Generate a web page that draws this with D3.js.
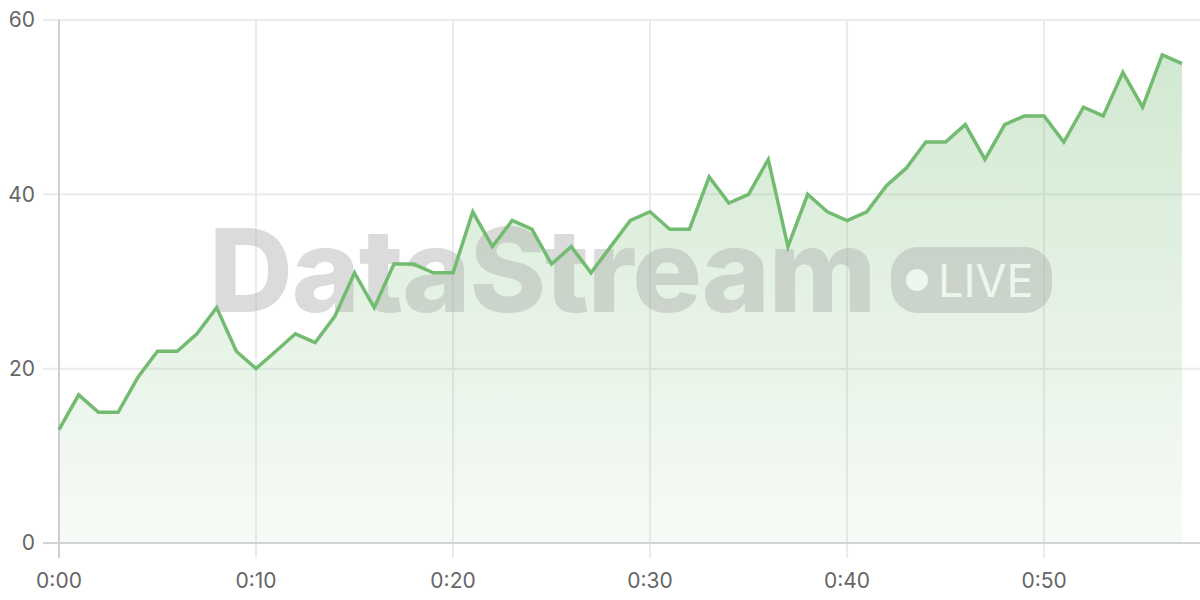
<!DOCTYPE html>
<html><head><meta charset="utf-8">
<script src="https://cdn.jsdelivr.net/npm/d3@7"></script>
<style>body{margin:0;background:#fff;}svg{display:block;font-family:Inter,"Noto Sans",sans-serif;}</style>
</head><body>
<svg id="c" width="1200" height="600"></svg>
<script>
const minutes = d3.range(0, 58);
const values = [13,17,15,15,19,22,22,24,27,22,20,22,24,23,26,31,27,32,32,31,31,38,34,37,36,32,34,31,34,37,38,36,36,42,39,40,44,34,40,38,37,38,41,43,46,46,48,44,48,49,49,46,50,49,54,50,56,55];
const yTicks = [0,20,40,60];
const xTicks = [0,10,20,30,40,50];
const xTickLabels = ["0:00","0:10","0:20","0:30","0:40","0:50"];

const svg = d3.select("#c");
const x = d3.scaleLinear().domain([0,57]).range([59,1182]);
const y = d3.scaleLinear().domain([0,60]).range([543,20]);
const data = minutes.map((m,i)=>({m, v: values[i]}));

const defs = svg.append("defs");
const g = defs.append("linearGradient").attr("id","ag").attr("x1",0).attr("y1",0).attr("x2",0).attr("y2",1);
g.append("stop").attr("offset","0%").attr("stop-color","#7cbf7a").attr("stop-opacity",0.35);
g.append("stop").attr("offset","100%").attr("stop-color","#7cbf7a").attr("stop-opacity",0.06);

// horizontal grid
svg.append("g").selectAll("line").data(yTicks).join("line")
  .attr("x1",43).attr("x2",1200).attr("y1",d=>y(d)).attr("y2",d=>y(d))
  .attr("stroke",d=>d===0?"#d0d0d0":"#ebebeb").attr("stroke-width",2);
// vertical grid
svg.append("g").selectAll("line").data(xTicks).join("line")
  .attr("x1",d=>x(d)).attr("x2",d=>x(d)).attr("y1",20).attr("y2",558)
  .attr("stroke",d=>d===0?"#d0d0d0":"#ebebeb").attr("stroke-width",2);

// y labels
svg.append("g").selectAll("text").data(yTicks).join("text")
  .attr("x",35).attr("y",d=>y(d)).attr("dy","0.35em").attr("text-anchor","end")
  .attr("font-size",21).attr("fill","#666").text(d=>d);
// x labels
svg.append("g").selectAll("text").data(xTicks).join("text")
  .attr("x",d=>x(d)).attr("y",588).attr("text-anchor","middle")
  .attr("font-size",21).attr("fill","#666").text((d,i)=>xTickLabels[i]);

// area
svg.append("path").datum(data)
  .attr("d", d3.area().x(d=>x(d.m)).y0(y(0)).y1(d=>y(d.v)))
  .attr("fill","url(#ag)");

// redraw baseline on top of area
svg.append("line").attr("x1",43).attr("x2",1200).attr("y1",y(0)).attr("y2",y(0)).attr("stroke","#d3d3d3").attr("stroke-width",2);

// watermark
const wm = svg.append("g").attr("opacity",0.4);
wm.append("text").attr("x",209).attr("y",312).attr("font-size",116).attr("font-weight",800)
  .attr("letter-spacing",-1.2).attr("fill","#a8a8a8").text("DataStream");
wm.append("rect").attr("x",891).attr("y",247).attr("width",161).attr("height",66).attr("rx",27).attr("fill","#a8a8a8");
wm.append("circle").attr("cx",917).attr("cy",280).attr("r",11).attr("fill","#ffffff");
wm.append("text").attr("x",938).attr("y",297).attr("font-size",45).attr("font-weight",400).attr("fill","#ffffff").text("LIVE");

// line
svg.append("path").datum(data)
  .attr("d", d3.line().x(d=>x(d.m)).y(d=>y(d.v)))
  .attr("fill","none").attr("stroke","#74bb72").attr("stroke-width",3.5).attr("stroke-linejoin","miter");
</script>
</body></html>
